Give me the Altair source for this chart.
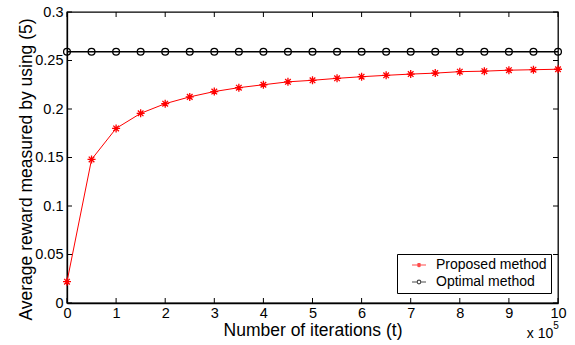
import altair as alt
import pandas as pd

# Iterations, in units of 10^5
iterations = [0, 0.5, 1, 1.5, 2, 2.5, 3, 3.5, 4, 4.5, 5,
              5.5, 6, 6.5, 7, 7.5, 8, 8.5, 9, 9.5, 10]
proposed = [0.022, 0.148, 0.180, 0.1955, 0.2055, 0.2125, 0.218, 0.222, 0.225, 0.228, 0.2296,
            0.2316, 0.2333, 0.2347, 0.236, 0.237, 0.2385, 0.239, 0.240, 0.2405, 0.241]
optimal = [0.259, 0.259, 0.259, 0.259, 0.259, 0.259, 0.259, 0.259, 0.259, 0.259, 0.259,
           0.259, 0.259, 0.259, 0.259, 0.259, 0.259, 0.259, 0.259, 0.259, 0.259]
series_names = ["Proposed method", "Optimal method"]
series_colors = ["#ff0000", "#000000"]
x_ticks = [0, 1, 2, 3, 4, 5, 6, 7, 8, 9, 10]
y_ticks = [0, 0.05, 0.1, 0.15, 0.2, 0.25, 0.3]

df = pd.DataFrame({
    "t": iterations + iterations,
    "reward": proposed + optimal,
    "series": [series_names[0]] * len(iterations) + [series_names[1]] * len(iterations),
})
x_tick_df = pd.DataFrame({"v": x_ticks})
y_tick_df = pd.DataFrame({"v": y_ticks})

W, H = 491, 291
TICK = 5
FONT = "Liberation Sans"

# marker glyphs (unit-square SVG paths)
ASTERISK = "M-1,0L1,0M0,-1L0,1M-0.7,-0.7L0.7,0.7M-0.7,0.7L0.7,-0.7"
CIRCLE = "M-1,0A1,1 0 1,0 1,0A1,1 0 1,0 -1,0"
# legend glyphs: a line segment with the marker in the middle (wider than the unit box)
LEG_ASTERISK = "M-2.8,0L2.8,0M0,-0.85L0,0.85M-0.6,-0.6L0.6,0.6M-0.6,0.6L0.6,-0.6"
LEG_CIRCLE = ("M-2.8,0L-0.72,0M0.72,0L2.8,0M-0.72,0"
              "A0.72,0.72 0 1,0 0.72,0A0.72,0.72 0 1,0 -0.72,0")

x_scale = alt.Scale(domain=[0, 10], nice=False, zero=False)
y_scale = alt.Scale(domain=[0, 0.3], nice=False)

base = alt.Chart(df)
is_proposed = alt.datum.series == series_names[0]
is_optimal = alt.datum.series == series_names[1]

# the Proposed line carries the (shared) axis definitions
line_prop = base.transform_filter(is_proposed).mark_line(
    color=series_colors[0], strokeWidth=1.0, clip=False
).encode(
    x=alt.X("t:Q", scale=x_scale,
            axis=alt.Axis(values=x_ticks, ticks=False, labelPadding=3,
                          labelFlush=False, title="Number of iterations (t)", titleY=32,
                          titleBaseline="alphabetic")),
    y=alt.Y("reward:Q", scale=y_scale,
            axis=alt.Axis(values=y_ticks, format=".2~f", ticks=False,
                          labelPadding=4, labelFlush=False,
                          title="Average reward measured by using (5)",
                          titleX=-36, titleY=157, titleAngle=270, titleAlign="center",
                          titleBaseline="alphabetic")),
)

line_opt = base.transform_filter(is_optimal).mark_line(
    color=series_colors[1], strokeWidth=1.5, clip=False
).encode(x=alt.X("t:Q", scale=x_scale), y=alt.Y("reward:Q", scale=y_scale))

stars = base.transform_filter(is_proposed).mark_point(
    shape=ASTERISK, size=64, filled=False, stroke=series_colors[0], strokeWidth=1.3,
    opacity=1, clip=False,
).encode(x=alt.X("t:Q", scale=x_scale), y=alt.Y("reward:Q", scale=y_scale))

circles = base.transform_filter(is_optimal).mark_point(
    shape=CIRCLE, size=46, filled=False, stroke=series_colors[1], strokeWidth=1.3,
    opacity=1, clip=False,
).encode(x=alt.X("t:Q", scale=x_scale), y=alt.Y("reward:Q", scale=y_scale))

# inward tick marks on all four sides of the frame
tick_style = dict(color="black", strokeWidth=1)
ticks_bottom = alt.Chart(x_tick_df).mark_rule(**tick_style).encode(
    x=alt.X("v:Q", scale=x_scale), y=alt.value(H), y2=alt.value(H - TICK))
ticks_top = alt.Chart(x_tick_df).mark_rule(**tick_style).encode(
    x=alt.X("v:Q", scale=x_scale), y=alt.value(0), y2=alt.value(TICK))
ticks_left = alt.Chart(y_tick_df).mark_rule(**tick_style).encode(
    y=alt.Y("v:Q", scale=y_scale), x=alt.value(0), x2=alt.value(TICK))
ticks_right = alt.Chart(y_tick_df).mark_rule(**tick_style).encode(
    y=alt.Y("v:Q", scale=y_scale), x=alt.value(W - TICK), x2=alt.value(W))

legend_spec = dict(title=None, orient="none", legendX=330, legendY=242,
                   symbolSize=25, symbolStrokeWidth=1.2,
                   symbolOffset=11, labelOffset=10,
                   labelFont=FONT, labelFontSize=14, labelColor="black",
                   padding=4, rowPadding=3, strokeColor="black", fillColor="white")

# layer that only carries the legend (zero-size marks)
legend_layer = base.mark_point(filled=False, size=0).encode(
    x=alt.X("t:Q", scale=x_scale),
    y=alt.Y("reward:Q", scale=y_scale),
    shape=alt.Shape("series:N",
                    scale=alt.Scale(domain=series_names, range=[LEG_ASTERISK, LEG_CIRCLE]),
                    legend=alt.Legend(**legend_spec)),
    stroke=alt.Stroke("series:N",
                      scale=alt.Scale(domain=series_names, range=series_colors),
                      legend=alt.Legend(**legend_spec)),
)

# axis multiplier note "x 10^5"
mult = alt.Chart(pd.DataFrame({"label": ["x 10"]})).mark_text(
    font=FONT, fontSize=14, align="center", baseline="alphabetic", color="black"
).encode(x=alt.value(473), y=alt.value(326), text="label:N")

mult_exp = alt.Chart(pd.DataFrame({"label": ["5"]})).mark_text(
    font=FONT, fontSize=10, align="center", baseline="alphabetic", color="black"
).encode(x=alt.value(489), y=alt.value(317), text="label:N")

chart = alt.layer(
    line_prop, line_opt, stars, circles,
    ticks_bottom, ticks_top, ticks_left, ticks_right,
    legend_layer, mult, mult_exp,
).properties(
    width=W, height=H,
    autosize=alt.AutoSizeParams(type="none"),
    padding={"left": 67, "top": 12, "right": 17, "bottom": 42},
    background="white",
).configure_view(
    stroke="black", strokeWidth=1.3,
).configure_axis(
    grid=False, labelFont=FONT, labelFontSize=14.5, labelColor="black",
    titleFont=FONT, titleFontSize=17.5, titleFontWeight="normal", titleColor="black",
    domainColor="black", domainWidth=1.3,
)

chart.save("out.html", embed_options={"renderer": "svg", "actions": False})
